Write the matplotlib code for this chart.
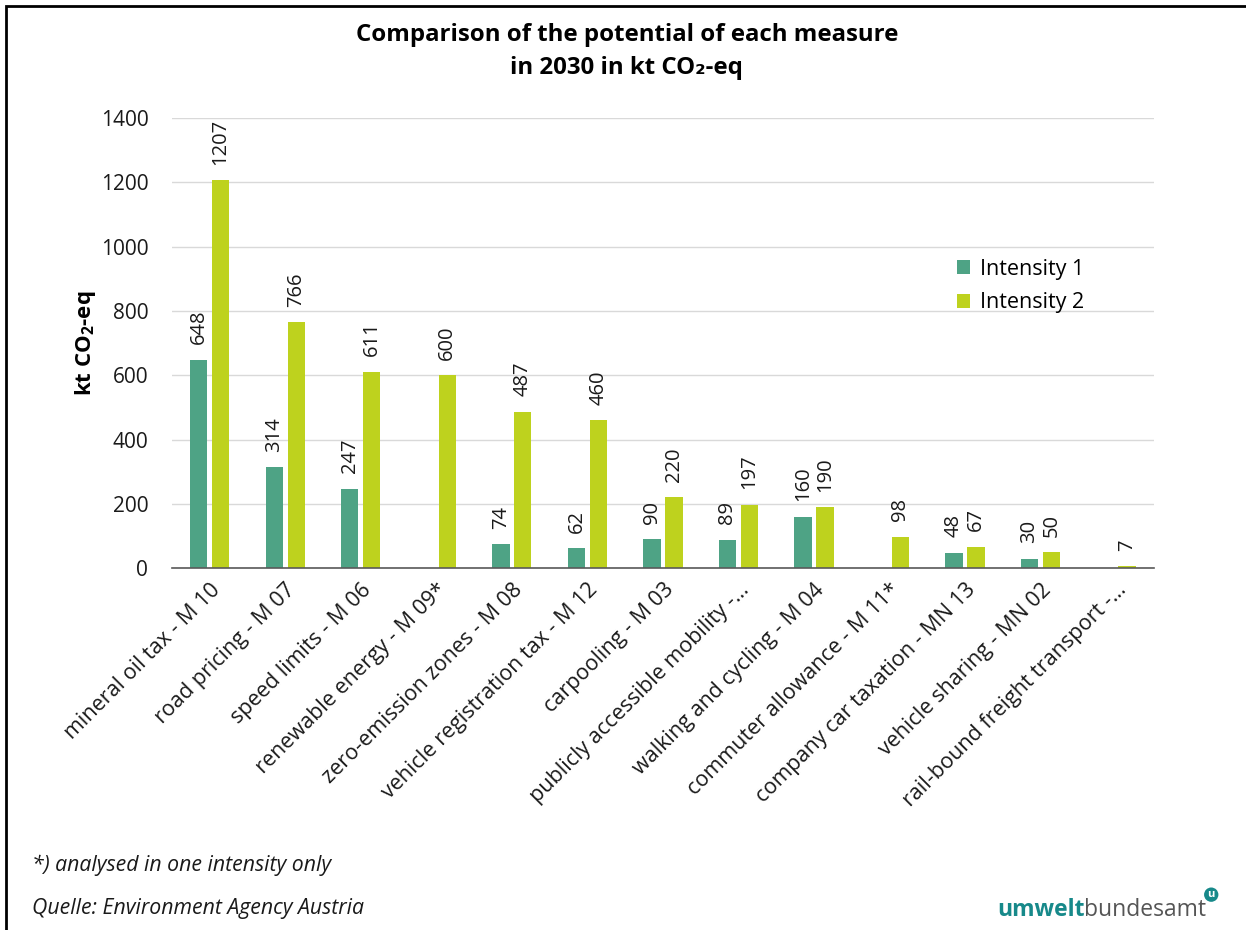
import matplotlib.pyplot as plt
from matplotlib.patches import Rectangle
import numpy as np

plt.rcParams['font.family'] = ['Open Sans', 'DejaVu Sans']
plt.rcParams['mathtext.fontset'] = 'custom'
plt.rcParams['mathtext.rm'] = 'Open Sans'
plt.rcParams['mathtext.bf'] = 'Open Sans:bold'

measures = ['mineral oil tax - M 10', 'road pricing - M 07', 'speed limits - M 06',
            'renewable energy - M 09*', 'zero-emission zones - M 08',
            'vehicle registration tax - M 12', 'carpooling - M 03',
            'publicly accessible mobility -…', 'walking and cycling - M 04',
            'commuter allowance - M 11*', 'company car taxation - MN 13',
            'vehicle sharing - MN 02', 'rail-bound freight transport -…']
intensity1 = [648, 314, 247, None, 74, 62, 90, 89, 160, None, 48, 30, None]
intensity2 = [1207, 766, 611, 600, 487, 460, 220, 197, 190, 98, 67, 50, 7]

c1 = '#4EA385'
c2 = '#BED21E'

fig = plt.figure(figsize=(12.46, 9.3), dpi=100)
ax = fig.add_axes([0.138, 0.389, 0.788, 0.484])

x = np.arange(len(measures))
w = 0.23
off = 0.145

v1 = [v if v is not None else 0 for v in intensity1]
ax.bar(x - off, v1, w, color=c1, label='Intensity 1', zorder=3)
ax.bar(x + off, intensity2, w, color=c2, label='Intensity 2', zorder=3)

for i in range(len(measures)):
    if intensity1[i] is not None:
        ax.text(x[i] - off, intensity1[i] + 48, str(intensity1[i]), rotation=90,
                ha='center', va='bottom', fontsize=14.5, color='#1a1a1a')
    ax.text(x[i] + off, intensity2[i] + 48, str(intensity2[i]), rotation=90,
            ha='center', va='bottom', fontsize=14.5, color='#1a1a1a')

ax.set_xlim(-0.5, len(measures) - 0.5)
ax.set_ylim(0, 1400)
ax.set_yticks(range(0, 1401, 200))
ax.tick_params(axis='y', length=0, labelsize=15, pad=17, colors='#1a1a1a')
ax.set_xticks(x)
ax.set_xticklabels(measures, rotation=45, ha='right', rotation_mode='anchor',
                   fontsize=15.5, color='#1a1a1a')
ax.tick_params(axis='x', length=0, pad=8)
ax.grid(axis='y', color='#D9D9D9', linewidth=1, zorder=0)
for s in ['top', 'right', 'left']:
    ax.spines[s].set_visible(False)
ax.spines['bottom'].set_color('#595959')
ax.spines['bottom'].set_linewidth(1.2)
ax.spines['bottom'].set_zorder(4)

ax.set_ylabel(r'kt CO$_\mathbf{2}$-eq', fontsize=16, fontweight='bold', labelpad=2)

ax.legend(loc='upper left', bbox_to_anchor=(0.78, 0.731), frameon=False,
          fontsize=15.5, handlelength=0.6, handleheight=0.6, handletextpad=0.45,
          labelspacing=0.6)

fig.text(0.503, 0.975, 'Comparison of the potential of each measure\nin 2030 in kt CO₂-eq',
         ha='center', va='top', fontsize=17.3, fontweight='bold', linespacing=1.5)

fig.text(0.026, 0.07, '*) analysed in one intensity only', fontsize=15.3,
         style='italic', color='#1a1a1a', va='center')
fig.text(0.026, 0.023, 'Quelle: Environment Agency Austria', fontsize=15.3,
         style='italic', color='#1a1a1a', va='center')

t1 = fig.text(0.8, 0.021, 'umwelt', fontsize=16.5, fontweight='bold',
              color='#17898A', va='center')
fig.canvas.draw()
bb = t1.get_window_extent()
x2 = bb.x1 / fig.bbox.width
t2 = fig.text(x2, 0.021, 'bundesamt', fontsize=16.5, color='#555555', va='center')
bb2 = t2.get_window_extent(renderer=fig.canvas.get_renderer())
fig.text(bb2.x1 / fig.bbox.width + 0.001, 0.038, 'u', fontsize=8, fontweight='bold',
         color='white', va='center', ha='left',
         bbox=dict(boxstyle='circle,pad=0.15', fc='#17898A', ec='none'))

fig.add_artist(Rectangle((0.005, -0.1), 1.1, 1.094, transform=fig.transFigure,
                         fill=False, ec='black', lw=2))

fig.savefig('out.png', dpi=100)
